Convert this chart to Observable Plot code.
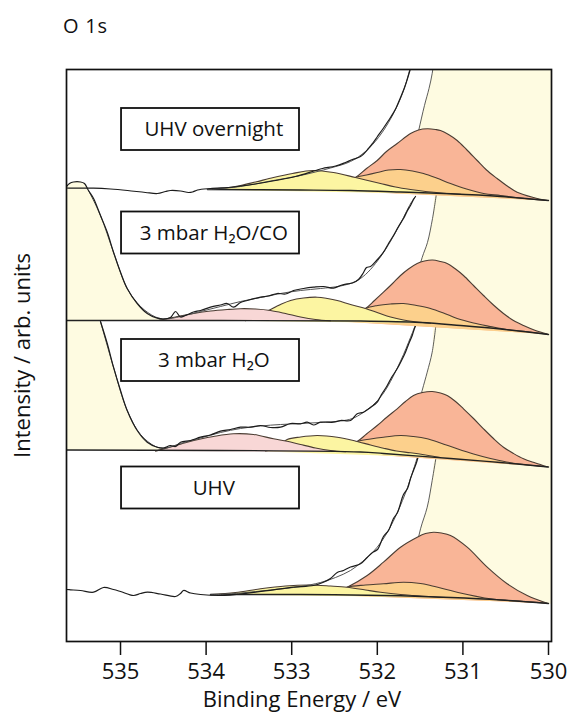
<!DOCTYPE html>
<html><head><meta charset="utf-8">
<script src="https://cdn.jsdelivr.net/npm/d3@7"></script>
<script src="https://cdn.jsdelivr.net/npm/@observablehq/plot@0.6"></script>
<style>
body{margin:0;background:#fff;}
#title{height:50px;box-sizing:border-box;padding:11px 0 0 63px;font:20px "Open Sans",sans-serif;letter-spacing:0.8px;line-height:30px;color:#111;}
#chart svg{display:block;}
</style></head><body>
<div id="title">O 1s</div>
<div id="chart"></div>
<script>
// ---- axis / labels ----
const energyTicks = [535, 534, 533, 532, 531, 530];
const labelNames = ["UHV overnight", "3 mbar H₂O/CO", "3 mbar H₂O", "UHV"];
const labelLevels = [512, 408.5, 281, 153.5];
const boxLeftE = 534.988, boxRightE = 532.909, labelCenterE = 533.91, boxHalf = 21;

// ---- UHV overnight (top spectrum) : [binding energy eV, intensity arb.] ----
const uhvOvBase = [[533.984,452],[532.897,451.5],[532.313,451],[531.729,449.5],[531.145,447.7],[530.561,445],[530.000,441]];
const uhvOvYellow = [[533.984,452],[533.773,453.5],[533.598,456],[533.423,459.5],[533.213,464],[532.991,468],[532.757,471],[532.512,469],[532.255,464],[531.963,458],[531.787,454.5],[531.612,452],[531.437,450],[531.227,448.3],[531.028,447.2]];
const uhvOvSalmon = [[532.605,451.3],[532.407,457],[532.255,464],[532.126,473],[532.001,481],[531.893,490],[531.768,498],[531.612,508],[531.519,511.5],[531.414,512.7],[531.320,512],[531.262,511],[531.168,507],[531.067,501],[530.958,492],[530.833,481],[530.724,471.5],[530.600,463],[530.491,456],[530.366,449.3],[530.175,444],[530.015,441]];
const uhvOvOrange = [[532.547,451.2],[532.383,457],[532.255,464],[532.126,466.5],[532.001,469],[531.869,471.5],[531.729,472],[531.589,470.5],[531.460,468],[531.308,463.5],[531.145,458],[530.958,452.5],[530.759,448],[530.561,446],[530.362,443.8],[530.015,441]];
const uhvOvLatticeEdge = [[531.659,449.3],[531.589,481],[531.519,510],[531.449,536],[531.396,553],[531.359,568],[531.332,586],[531.308,611]];
const uhvOvLatticeRest = [[529.965,611],[529.965,441],[530.000,441],[530.561,445],[531.145,447.7]];
const uhvOvFit = [[533.984,452],[533.598,455],[533.248,460.5],[532.897,466],[532.547,473.5],[532.313,480],[532.138,490],[531.986,504],[531.869,519],[531.776,534],[531.706,548],[531.659,560],[531.624,571],[531.601,579]];
const uhvOvData = [[535.631,453.5],[535.584,453.3],[535.315,453.3],[535.117,452.5],[534.918,451],[534.708,449],[534.568,448],[534.474,450],[534.416,451],[534.299,450.5],[534.206,449],[534.159,449.5],[534.100,451.5],[533.949,453],[533.680,454.5],[533.423,457.5],[533.189,461],[532.956,465],[532.722,471],[532.640,473],[532.488,475.5],[532.372,479],[532.290,482],[532.196,485],[532.103,493],[532.056,498],[531.998,505],[531.916,515],[531.846,524],[531.787,532.5],[531.729,544],[531.682,554],[531.647,563],[531.612,573],[531.589,580]];

// ---- 3 mbar H2O/CO ----
const h2oCoBase = [[535.631,321],[532.196,320.5],[531.495,319],[531.028,316],[530.561,312.5],[530.000,307]];
const h2oCoGas = [[535.631,455],[535.596,458],[535.549,459.5],[535.467,459.5],[535.421,458],[535.374,451],[535.315,443],[535.234,426],[535.155,409.3],[535.082,389.3],[535.000,369.3],[534.922,353],[534.805,338],[534.688,328],[534.571,323.3],[534.454,321.5],[534.416,321],[535.631,321]];
const h2oCoData = [[535.631,455],[535.596,458],[535.549,459.5],[535.467,459.5],[535.421,458],[535.374,451],[535.315,443],[535.234,426],[535.155,409.3],[535.082,389.3],[535.000,369.3],[534.922,353],[534.805,338],[534.688,328],[534.571,323.3],[534.498,322.5],[534.416,324],[534.357,330],[534.299,324.5],[534.217,327],[534.147,329.5],[534.065,331],[533.949,334.3],[533.832,336.5],[533.754,338],[533.680,334.3],[533.598,339],[533.520,341],[533.364,344.3],[533.271,345.5],[533.169,348],[533.073,347.5],[532.979,351],[532.862,353],[532.745,354.3],[532.629,355],[532.512,353.3],[532.430,356],[532.352,357.7],[532.290,358.5],[532.220,362],[532.161,369],[532.126,374],[532.079,375],[532.009,381],[531.928,389.3],[531.869,398],[531.811,406],[531.752,415],[531.694,423],[531.647,431],[531.612,436],[531.577,442],[531.554,445]];
const h2oCoFit = [[535.374,451],[535.234,426],[535.082,389.3],[534.922,353],[534.766,335],[534.591,324.5],[534.474,322.5],[534.299,325],[534.065,330],[533.832,335],[533.598,340],[533.364,344],[533.131,348],[532.897,351],[532.664,353],[532.430,355.5],[532.255,360],[532.138,367],[532.021,378],[531.904,392],[531.787,409],[531.694,424],[531.624,436],[531.566,444]];
const h2oCoLatticeEdge = [[531.671,319.5],[531.566,356],[531.476,384],[531.414,399],[531.355,423],[531.308,448.5]];
const h2oCoLatticeRest = [[531.145,447.7],[530.561,445],[530.000,441],[529.965,441],[529.965,307],[530.000,307],[530.561,312.5],[531.028,316],[531.495,319]];
const h2oCoSalmon = [[532.488,320.2],[532.290,326],[532.138,333],[532.033,341],[531.928,349.3],[531.822,358],[531.729,366],[531.636,372.5],[531.534,378],[531.449,380.5],[531.355,381.5],[531.262,380],[531.184,378],[531.086,372.5],[530.993,366],[530.876,356],[530.759,346],[530.643,336.5],[530.526,328],[530.409,321],[530.292,316],[530.152,311],[530.015,307.5]];
const h2oCoOrange = [[532.430,320.2],[532.266,325.5],[532.138,333],[531.998,336],[531.846,337.5],[531.694,338],[531.542,336],[531.379,333],[531.227,328.5],[531.067,323],[530.876,318.5],[530.678,315],[530.491,312],[530.292,310.2],[530.015,307.2]];
const h2oCoYellow = [[533.540,320.7],[533.388,326],[533.271,331],[533.131,337],[533.014,341],[532.862,343.5],[532.702,344.3],[532.582,343],[532.468,341],[532.313,337],[532.138,333],[531.986,328.5],[531.846,324.5],[531.694,321.5],[531.534,319.5],[531.379,318.2]];
const h2oCoPink = [[534.556,321],[534.357,324.5],[534.147,328],[533.949,330.5],[533.754,332],[533.598,332.8],[533.423,332.5],[533.248,331],[533.073,328],[532.897,324.5],[532.722,322],[532.547,320.7]];

// ---- 3 mbar H2O ----
const h2oBase = [[535.631,191.5],[532.196,189.5],[531.928,188],[531.145,183],[530.561,179],[530.000,174.5]];
const h2oGas = [[535.631,320.5],[535.280,320.5],[535.234,319.5],[535.155,298],[535.082,274.3],[535.000,251],[534.922,231],[534.805,211],[534.688,199.3],[534.571,194.3],[534.454,192.7],[534.416,191.4],[535.631,191.5]];
const h2oData = [[535.234,320],[535.155,298],[535.082,274.3],[535.000,251],[534.922,231],[534.805,211],[534.688,199.3],[534.571,194.3],[534.498,193.5],[534.416,196],[534.357,195],[534.299,199.3],[534.182,201],[534.065,204.3],[533.949,206.5],[533.832,210.3],[533.715,212],[533.598,214.3],[533.481,214.3],[533.364,216],[533.248,214],[533.131,214.3],[533.014,218],[532.897,217.7],[532.819,219.3],[532.745,216.5],[532.664,219.3],[532.512,219.3],[532.430,221],[532.313,221],[532.235,227.7],[532.161,229.3],[532.079,234],[532.001,239.3],[531.951,247],[531.884,256],[531.834,264],[531.768,272.7],[531.717,281],[531.671,289.3],[531.636,297],[531.592,306],[531.566,313],[531.534,319.3]];
const h2oFit = [[535.234,320],[535.082,274.3],[534.922,231],[534.766,207],[534.591,195],[534.474,193.5],[534.299,198],[534.065,203.5],[533.832,209],[533.598,213],[533.364,215.5],[533.131,217],[532.897,218],[532.664,219],[532.430,220.5],[532.290,223],[532.173,228.5],[532.056,236],[531.939,247],[531.846,260],[531.764,274],[531.694,287],[531.636,299],[531.589,309],[531.548,318]];
const h2oLatticeEdge = [[531.671,186.5],[531.566,221],[531.476,251],[531.417,269.3],[531.359,289.3],[531.314,317.5]];
const h2oLatticeRest = [[531.028,316],[530.561,312.5],[530.000,307],[529.965,307],[529.965,174.5],[530.000,174.5],[530.561,179],[531.145,183]];
const h2oSalmon = [[532.547,189.7],[532.372,195],[532.235,200],[532.126,207.5],[532.001,216],[531.893,224],[531.768,232.7],[531.671,240],[531.577,246],[531.472,249],[531.359,250],[531.262,248.5],[531.184,246],[531.086,240],[530.993,232.7],[530.876,223],[530.759,212.7],[530.643,203],[530.526,194.3],[530.409,188],[530.292,182.7],[530.152,178.5],[530.015,174.7]];
const h2oOrange = [[532.488,189.7],[532.348,194.5],[532.235,200],[532.079,202.5],[531.928,204.3],[531.729,206],[531.577,205],[531.417,202.7],[531.262,198.5],[531.067,192.7],[530.876,187.5],[530.678,183],[530.491,179.5],[530.292,177],[530.015,174.7]];
const h2oYellow = [[533.306,190],[533.154,196],[533.053,202],[532.897,204.5],[532.702,206],[532.468,204.3],[532.235,200],[532.079,196.5],[531.928,193.3],[531.776,190.5],[531.612,188.7],[531.437,186.5],[531.262,184]];
const h2oPink = [[534.591,190.4],[534.416,194.5],[534.221,199.3],[534.065,202.5],[533.914,205],[533.680,207.7],[533.446,207],[533.213,202.7],[533.053,200.3],[532.897,197],[532.722,193.5],[532.547,191],[532.372,189.7]];

// ---- UHV (bottom spectrum) ----
const uhvBase = [[533.949,47],[532.897,47],[532.313,46.5],[531.729,45.7],[531.145,44],[530.561,41.5],[530.000,38]];
const uhvData = [[535.631,52],[535.584,51.7],[535.467,51],[535.315,49.3],[535.199,54],[535.082,52],[535.000,50],[534.848,46],[534.766,48],[534.685,49.3],[534.533,47.5],[534.357,45],[534.299,48],[534.264,51],[534.182,48.5],[534.065,47],[533.832,46],[533.516,48.3],[533.213,51.7],[532.979,54.3],[532.745,56],[532.629,59.3],[532.547,63],[532.468,69],[532.395,71],[532.313,74.5],[532.196,77.7],[532.118,84],[532.056,89],[531.998,92],[531.928,105],[531.869,111],[531.811,123],[531.764,129],[531.694,147],[531.647,153],[531.612,163],[531.577,171],[531.542,179],[531.519,186]];
const uhvFit = [[533.949,46.5],[533.598,48.5],[533.248,51.5],[532.897,55],[532.664,59],[532.488,64],[532.313,71],[532.173,80],[532.056,89],[531.951,100],[531.858,113],[531.776,127],[531.706,141],[531.647,154],[531.601,166],[531.566,175],[531.530,185]];
const uhvLatticeEdge = [[531.682,45.5],[531.577,81],[531.495,112.7],[531.417,134.3],[531.359,161],[531.314,184]];
const uhvLatticeRest = [[531.145,183],[530.561,179],[530.000,174.5],[529.965,174.5],[529.965,38],[530.000,38],[530.561,41.5],[531.145,44]];
const uhvSalmon = [[532.664,46.8],[532.488,50],[532.352,54.3],[532.118,66],[531.928,79.3],[531.729,94.3],[531.534,104.3],[531.437,108],[531.343,109.3],[531.250,108.5],[531.145,106],[530.950,94.3],[530.716,74.3],[530.483,57.7],[530.249,46],[530.015,38.3]];
const uhvOrange = [[532.605,46.7],[532.453,50],[532.352,54.3],[532.138,56.5],[531.928,57.7],[531.694,59.3],[531.495,58],[531.379,56],[531.067,49.3],[530.678,42.7],[530.292,40],[530.015,38.3]];
const uhvYellow = [[533.949,47],[533.657,49],[533.364,52.7],[533.073,55.5],[532.804,56.5],[532.547,55.5],[532.352,54.3],[532.138,51.5],[531.963,49.3],[531.729,47],[531.577,46],[531.320,44.5],[531.145,44]];

// ---- build marks ----
const CREAM = "#fefbe1", SALMON = "#f9b597", ORANGE = "#fcd08c", YELLOW = "#fcf5a2", PINK = "#f8d7d6";
const OUTLINE = "#4b3d33";
const X = d => d[0], Y = d => d[1];
const curve = "catmull-rom";
const fillMark = (pts, color) => Plot.line(pts, {x: X, y: Y, fill: color, stroke: "none", curve, clip: true});
const lineMark = (pts, color, w) => Plot.line(pts, {x: X, y: Y, stroke: color, strokeWidth: w, curve, clip: true});

const spectra = [
  {base: uhvBase, data: uhvData, fit: uhvFit, edge: uhvLatticeEdge, rest: uhvLatticeRest, salmon: uhvSalmon, orange: uhvOrange, yellow: uhvYellow},
  {base: h2oBase, data: h2oData, fit: h2oFit, edge: h2oLatticeEdge, rest: h2oLatticeRest, gas: h2oGas, salmon: h2oSalmon, orange: h2oOrange, yellow: h2oYellow, pink: h2oPink},
  {base: h2oCoBase, data: h2oCoData, fit: h2oCoFit, edge: h2oCoLatticeEdge, rest: h2oCoLatticeRest, gas: h2oCoGas, salmon: h2oCoSalmon, orange: h2oCoOrange, yellow: h2oCoYellow, pink: h2oCoPink},
  {base: uhvOvBase, data: uhvOvData, fit: uhvOvFit, edge: uhvOvLatticeEdge, rest: uhvOvLatticeRest, salmon: uhvOvSalmon, orange: uhvOvOrange, yellow: uhvOvYellow}
];

const marks = [];
for (const s of spectra) {
  marks.push(fillMark(s.edge.concat(s.rest), CREAM), lineMark(s.edge, "#333", 0.8));
  if (s.gas) marks.push(fillMark(s.gas, CREAM));
  marks.push(fillMark(s.salmon, SALMON), lineMark(s.salmon, OUTLINE, 1.1));
  marks.push(fillMark(s.orange, ORANGE), lineMark(s.orange, OUTLINE, 1.1));
  marks.push(fillMark(s.yellow, YELLOW), lineMark(s.yellow, OUTLINE, 1.1));
  if (s.pink) marks.push(fillMark(s.pink, PINK), lineMark(s.pink, OUTLINE, 1.1));
  marks.push(lineMark(s.base, "#222", 1.4));
  marks.push(lineMark(s.fit, "#555", 1.0));
  marks.push(lineMark(s.data, "#1c1c1c", 1.2));
}

const labels = labelNames.map((name, i) => ({name, v: labelLevels[i]}));
marks.push(
  Plot.rect(labels, {x1: () => boxLeftE, x2: () => boxRightE, y1: d => d.v - boxHalf, y2: d => d.v + boxHalf, fill: "white", stroke: "#111", strokeWidth: 1.8}),
  Plot.text(labels, {x: () => labelCenterE, y: "v", text: "name", fontSize: 20.5, fill: "#111"}),
  Plot.axisX(energyTicks, {tickSize: 14, tickPadding: 8, tickFormat: d => String(d), fontSize: 22, strokeWidth: 1.5, stroke: "#111", fill: "#111", label: null}),
  Plot.text(["Binding Energy / eV"], {frameAnchor: "bottom", dx: -7, dy: 65, textAnchor: "middle", fontSize: 22, fill: "#111"}),
  Plot.text(["Intensity / arb. units"], {frameAnchor: "left", dx: -44, rotate: -90, textAnchor: "middle", lineAnchor: "middle", fontSize: 22, fill: "#111"}),
  Plot.frame({stroke: "#111", strokeWidth: 1.7})
);

const chart = Plot.plot({
  width: 571, height: 669,
  marginLeft: 66, marginRight: 20, marginTop: 19, marginBottom: 78,
  x: {domain: [535.631, 529.965], label: null},
  y: {domain: [0, 572], axis: null},
  style: {fontFamily: '"Open Sans", sans-serif', fontSize: "20px", color: "#111", background: "white"},
  marks
});
document.getElementById("chart").appendChild(chart);
</script></body></html>
